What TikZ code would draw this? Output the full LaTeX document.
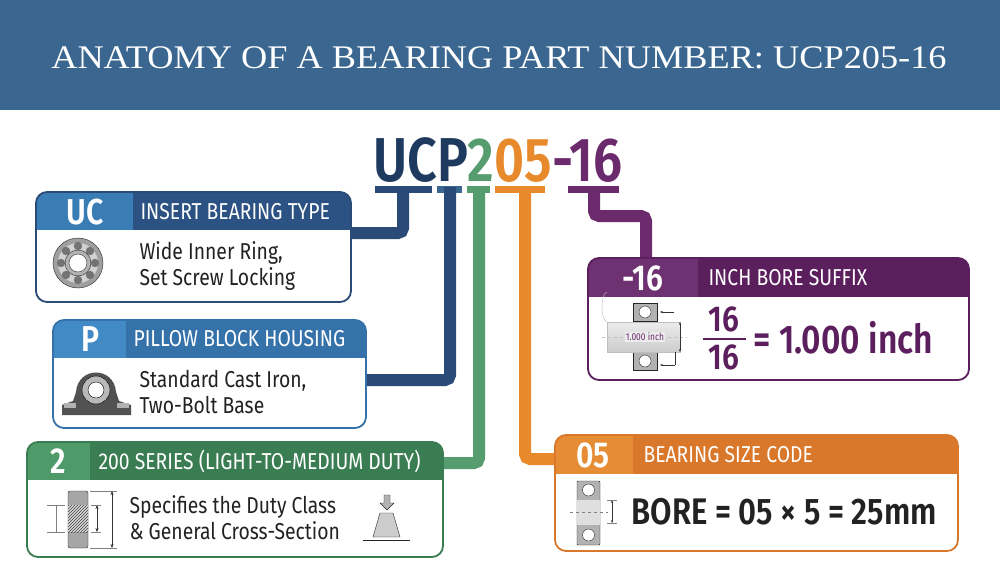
\documentclass[tikz,border=0pt]{standalone}
\usepackage{fontspec}
\setmainfont{Liberation Serif}
\newfontfamily\cond[FakeStretch=0.84]{Fira Sans}
\newfontfamily\condb[FakeStretch=0.84]{Fira Sans SemiBold}
\usetikzlibrary{patterns,arrows.meta}
\definecolor{hdr}{HTML}{3A6690}
\definecolor{navyT}{HTML}{1F3A5F}
\definecolor{navyC}{HTML}{2A4B78}
\definecolor{ucL}{HTML}{3A7CB4}
\definecolor{ucD}{HTML}{2B5282}
\definecolor{pL}{HTML}{418AC6}
\definecolor{pD}{HTML}{3672AA}
\definecolor{gL}{HTML}{4E9A68}
\definecolor{gD}{HTML}{3B7D52}
\definecolor{gC}{HTML}{559C6E}
\definecolor{oL}{HTML}{E58C34}
\definecolor{oD}{HTML}{D9782A}
\definecolor{oC}{HTML}{E88A2C}
\definecolor{puL}{HTML}{6E3272}
\definecolor{puD}{HTML}{5C1F5E}
\definecolor{puC}{HTML}{6A2A6C}
\definecolor{txt}{HTML}{222222}
\tikzset{
 hdtext/.style={anchor=west,text=white,font=\cond\fontsize{23}{23}\selectfont},
 lbtext/.style={text=white,font=\condb\fontsize{36}{36}\selectfont},
 bodytext/.style={anchor=west,text=txt,align=left,font=\cond\fontsize{23}{26}\selectfont},
 conn/.style={line width=12pt,rounded corners=5pt},
}
\newcommand{\pbox}[9]{% x1 y1 x2 y2 hy lx light dark border
 \begin{scope}
 \clip[rounded corners=11pt] (#1,#2) rectangle (#3,#4);
 \fill[white] (#1,#2) rectangle (#3,#4);
 \fill[#8] (#1,#2) rectangle (#3,#5);
 \fill[#7] (#1,#2) rectangle (#6,#5);
 \end{scope}
 \draw[#9,line width=1.8pt,rounded corners=11pt] (#1,#2) rectangle (#3,#4);
}
\begin{document}
\begin{tikzpicture}[x=1pt,y=-1pt]
\fill[white] (0,0) rectangle (1000,583);
\useasboundingbox (0,0) rectangle (1000,583);
\fill[hdr] (0,0) rectangle (1000,110);
\node[text=white,font=\fontsize{33}{33}\selectfont] (title) at (499,58) {\scalebox{1.1}[1]{ANATOMY OF A BEARING PART NUMBER: UCP205-16}};

% part number
\node[anchor=base west,inner sep=0pt,font=\condb\fontsize{62}{62}\selectfont] (pn) at (373,181)
 {\textcolor{navyT}{UCP}\textcolor{gC}{2}\textcolor{oC}{05}\textcolor{puC}{-16}};

% connectors
\fill[navyC] (375,186) rectangle (432,193);
\draw[conn,navyC] (403,187) -- (403,233) -- (350,233);
\fill[hdr] (437,186) rectangle (462,193);
\draw[conn,navyC] (450,187) -- (450,380) -- (365,380);
\fill[gC] (467,186) rectangle (490,193);
\draw[conn,gC] (479,187) -- (479,463) -- (442,463);
\fill[oC] (495,186) rectangle (545,193);
\draw[conn,oC] (525,187) -- (525,459) -- (556,459);
\fill[puC] (568,186) rectangle (619,193);
\draw[conn,puC] (594,187) -- (594,216) -- (646,216) -- (646,260);

% UC box
\pbox{36}{192}{351}{302}{230}{133}{ucL}{ucD}{navyC}
\node[lbtext] (ucl) at (85,212) {UC};
\node[hdtext] (uch) at (137,212) {INSERT BEARING TYPE};
\node[bodytext] (ucb) at (136,266) {Wide Inner Ring,\\Set Screw Locking};
\fill[gray!75,draw=gray!30!black] (78,263) circle (25);
\fill[gray!35] (78,263) circle (20);
\foreach \a in {0,45,...,315} \fill[gray!90!black] ([shift={(\a:17)}]78,263) circle (4.2);
\fill[gray!60,draw=gray!30!black] (78,263) circle (13);
\fill[white,draw=gray!40!black] (78,263) circle (9);

% P box
\pbox{53}{320}{366}{428}{358}{126}{pL}{pD}{pD}
\node[lbtext] (pl) at (90,339) {P};
\node[hdtext] (ph) at (130,339) {PILLOW BLOCK HOUSING};
\node[bodytext] (pb) at (136,392) {Standard Cast Iron,\\Two-Bolt Base};
\fill[gray!30!black!80] (62,415) -- (62,405) -- (73,401) -- (76,392) .. controls (78,366) and (114,366) .. (116,392) -- (119,401) -- (131,405) -- (131,415) -- cycle;
\fill[gray!60] (64,403) rectangle (76,408);
\fill[gray!60] (117,403) rectangle (129,408);
\fill[gray!55,draw=black] (96,390) circle (14);
\fill[white,draw=black] (96,390) circle (8);

% 2 box
\pbox{27}{442}{443}{557}{480}{90}{gL}{gD}{gD}
\node[lbtext] (gl) at (58,461) {2};
\node[hdtext] (gh) at (95,461) {200 SERIES (LIGHT-TO-MEDIUM DUTY)};
\node[bodytext] (gb) at (126,518) {Specifies the Duty Class\\\& General Cross-Section};
\fill[gray!70,draw=gray!30!black,rounded corners=2pt] (68,491) rectangle (88,548);
\fill[gray!30] (68,505) rectangle (88,532);
\fill[pattern=north east lines,pattern color=gray!50!black] (68,505) rectangle (88,532);
\draw[gray] (47,505) -- (65,505) (47,532) -- (65,532) (56,505) -- (56,532);
\draw[gray!40!black,{Stealth[length=4pt]}-{Stealth[length=4pt]}] (97,505) -- (97,532);
\draw[gray] (91,505) -- (101,505) (91,532) -- (101,532);
\draw[gray] (90,491) -- (117,491) (90,548) -- (117,548);
\draw[gray!40!black,{Stealth[length=4pt]}-{Stealth[length=4pt]}] (112,491) -- (112,548);
\fill[gray!40,draw=gray!30!black] (373,537) -- (380,513) -- (393,513) -- (400,537) -- cycle;
\draw[gray!30!black] (363,540) -- (410,540);
\fill[gray!60,draw=gray!30!black] (384,495) -- (390,495) -- (390,503) -- (394,503) -- (387,510) -- (380,503) -- (384,503) -- cycle;

% -16 box
\pbox{588}{258}{969}{380}{297}{698}{puL}{puD}{puD}
\node[lbtext] (ul) at (643,278) {-16};
\node[hdtext] (uh) at (705,278) {INCH BORE SUFFIX};
\fill[gray!60,draw=gray!30!black] (633,303) rectangle (657,321);
\fill[gray!60,draw=gray!30!black] (633,352) rectangle (657,370);
\fill[white,draw=gray!30!black] (645,312) circle (6);
\fill[white,draw=gray!30!black] (645,361) circle (6);
\shade[top color=gray!15,bottom color=gray!40,draw=gray!50] (607,322) rectangle (680,352);
\draw[gray!50] (607,322) arc[start angle=90,end angle=270,x radius=5,y radius=15];
\draw[gray!50,dashed] (602,337) -- (687,337);
\node[fill=gray!15,inner sep=1pt,text=puC,font=\cond\fontsize{10}{10}\selectfont] (ui) at (645,337) {1.000 inch};
\draw[gray!40!black,{Stealth[length=3pt]}-{Stealth[length=3pt]}] (680,322) -- (680,352);
\draw[gray!40!black,-{Stealth[length=3pt]}] (674,312) -- (660,312);
\draw[gray!40!black] (675,352) -- (675,365);
\draw[gray!40!black,-{Stealth[length=3pt]}] (675,365) -- (660,365);
\node[text=puD,font=\condb\fontsize{36}{36}\selectfont] (un) at (724,319) {16};
\node[text=puD,font=\condb\fontsize{36}{36}\selectfont] (ud) at (724,357) {16};
\draw[puD,line width=2pt] (703,339) -- (746,339);
\node[anchor=west,text=puD,font=\condb\fontsize{40}{40}\selectfont] (ue) at (750,338) {= 1.000 inch};

% 05 box
\pbox{555}{435}{958}{551}{474}{633}{oL}{oD}{oD}
\node[lbtext] (ol) at (593,455) {05};
\node[hdtext] (oh) at (640,455) {BEARING SIZE CODE};
\fill[gray!60,draw=gray!30!black,rounded corners=1pt] (577,481) rectangle (600,545);
\fill[gray!25] (577,500) rectangle (600,525);
\fill[white,draw=gray!30!black] (588.5,490) circle (6);
\fill[white,draw=gray!30!black] (588.5,535) circle (6);
\draw[gray,dashed] (570,512) -- (608,512);
\draw[gray!40!black,{Stealth[length=3pt]}-{Stealth[length=3pt]}] (612,500) -- (612,523);
\draw[gray] (607,500) -- (617,500) (607,523) -- (617,523);
\node[anchor=west,text=txt,font=\condb\fontsize{37}{37}\selectfont] (ob) at (628,512) {BORE = 05 × 5 = 25mm};
\end{tikzpicture}
\end{document}
